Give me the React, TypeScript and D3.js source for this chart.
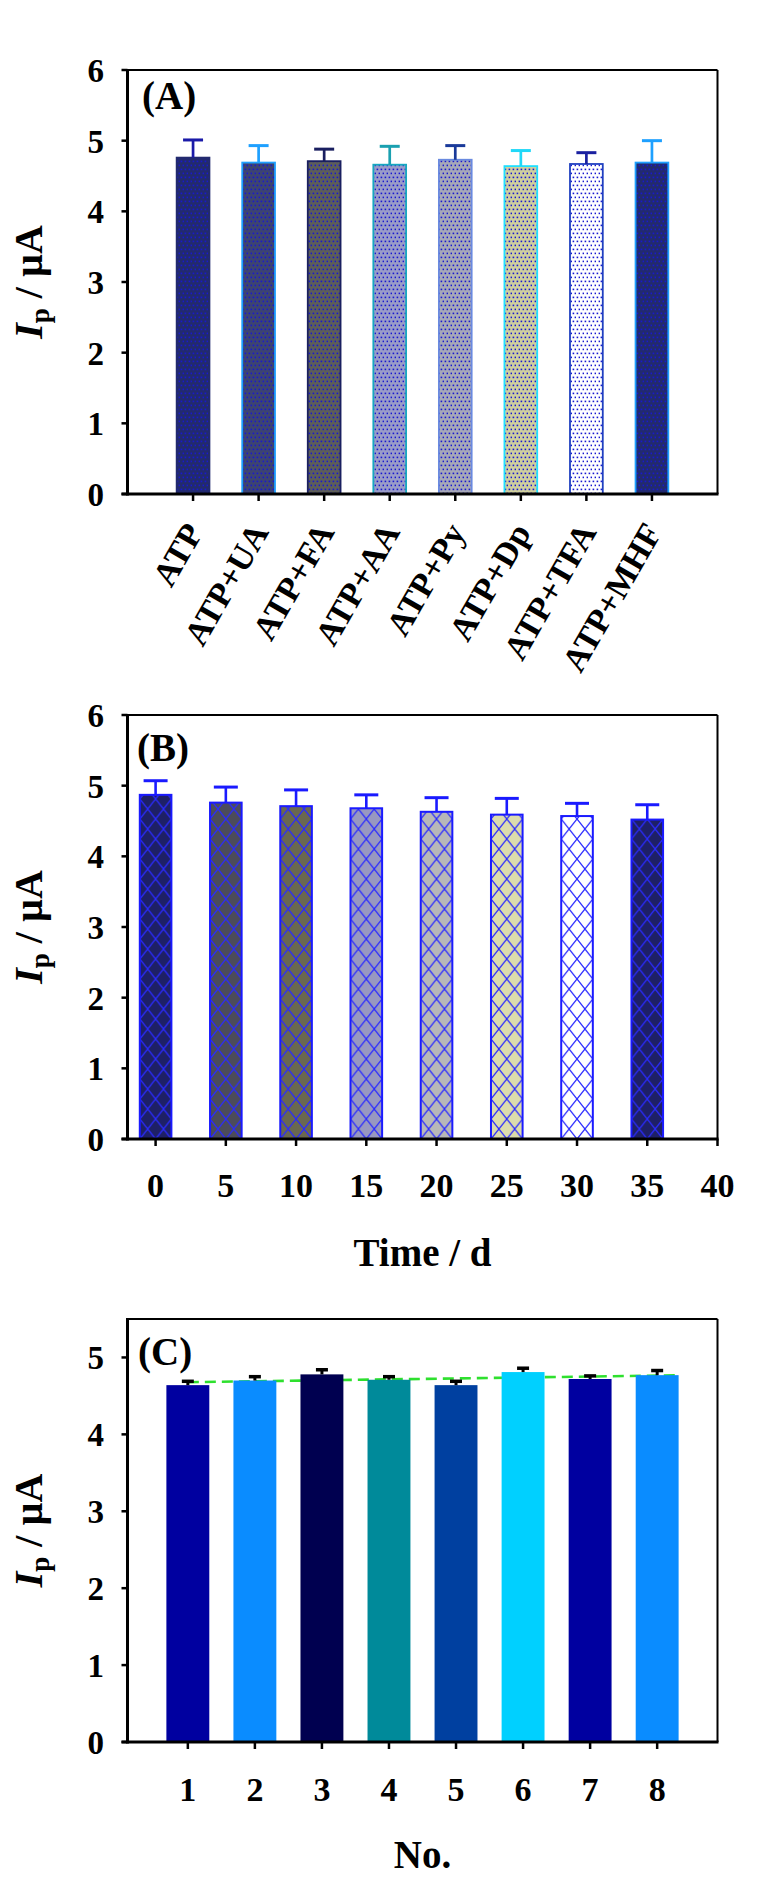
import React from 'react';
import * as d3 from 'd3';

// panel A: interference study
const categoriesA = ['ATP', 'ATP+UA', 'ATP+FA', 'ATP+AA', 'ATP+Py', 'ATP+Dp', 'ATP+TFA', 'ATP+MHF'];
const valuesA = [4.76, 4.69, 4.71, 4.66, 4.73, 4.64, 4.67, 4.69];
const errorsA = [0.25, 0.24, 0.17, 0.26, 0.2, 0.22, 0.16, 0.31];

// panel B: stability over time
const daysB = [0, 5, 10, 15, 20, 25, 30, 35];
const valuesB = [4.87, 4.76, 4.71, 4.68, 4.63, 4.59, 4.57, 4.52];
const errorsB = [0.2, 0.22, 0.23, 0.19, 0.2, 0.23, 0.18, 0.21];
const dayTicksB = [0, 5, 10, 15, 20, 25, 30, 35, 40];

// panel C: reproducibility, electrodes 1-8
const electrodesC = [1, 2, 3, 4, 5, 6, 7, 8];
const valuesC = [4.64, 4.7, 4.78, 4.71, 4.64, 4.81, 4.72, 4.77];
const errorsC = [0.05, 0.05, 0.06, 0.04, 0.05, 0.05, 0.04, 0.06];

const yTicksAB = [0, 1, 2, 3, 4, 5, 6];
const yTicksC = [0, 1, 2, 3, 4, 5];

const fillA = ['#222a6e', '#3d4470', '#5d5e58', '#9a9cc8', '#a6a8b8', '#cfcf9e', '#ffffff', '#222a6e'];
const edgeA = ['#222a6e', '#1ea0ff', '#1a1f60', '#18a8c0', '#6a8ae0', '#20e0ff', '#2040c0', '#1ea0ff'];
const errColA = ['#1a1aa8', '#1ea0ff', '#1a1f60', '#1aa0b0', '#1a3a9a', '#20d8f8', '#1a20a0', '#1ea0ff'];
const fillB = ['#1e2066', '#4c4c5a', '#6a6850', '#9898c0', '#b8b8b8', '#dcdcac', '#ffffff', '#1e2066'];
const fillC = ['#0000a0', '#0a8cff', '#000050', '#008a9a', '#0040a0', '#00d0ff', '#0000a0', '#0a8cff'];

const W = 761;
const H = 1884;
const X0 = 127.5;
const X1 = 717.5;
const FONT = '"Liberation Serif", "Times New Roman", serif';

function Frame({ top, bottom, y, yTicks, xTicks }) {
  return (
    <g>
      {yTicks.map(t => (
        <g key={t}>
          <line x1={X0 - 6} x2={X0} y1={y(t)} y2={y(t)} stroke="#000" strokeWidth={2.5} />
          <text x={104} y={y(t)} dy="0.36em" textAnchor="end" fontSize={33} fontWeight="bold">{t}</text>
        </g>
      ))}
      {xTicks.map((x, i) => (
        <line key={i} x1={x} x2={x} y1={bottom} y2={bottom + 7} stroke="#000" strokeWidth={2.5} />
      ))}
      <line x1={X0} x2={X1} y1={top} y2={top} stroke="#000" strokeWidth={2} />
      <line x1={X1} x2={X1} y1={top} y2={bottom} stroke="#000" strokeWidth={2} />
      <line x1={X0} x2={X0} y1={top - 1} y2={bottom + 1.5} stroke="#000" strokeWidth={3} />
      <line x1={X0 - 6} x2={X1 + 1} y1={bottom} y2={bottom} stroke="#000" strokeWidth={3} />
    </g>
  );
}

function YTitle({ cy }) {
  return (
    <text transform={`translate(42,${cy}) rotate(-90)`} textAnchor="middle" fontSize={40} fontWeight="bold">
      <tspan fontStyle="italic">I</tspan>
      <tspan fontSize={27} dy={7}>p</tspan>
      <tspan dy={-7}> / µA</tspan>
    </text>
  );
}

function hatchPaths(w, h) {
  const s = h / w;
  const segs = [];
  for (const c of [-h, 0, h]) segs.push(`M${-w},${-s * w + c}L${2 * w},${2 * s * w + c}`);
  for (const c of [0, h, 2 * h]) segs.push(`M${-w},${s * w + c}L${2 * w},${-2 * s * w + c}`);
  return segs.join('');
}

export default function App() {
  // ---- panel A ----
  const topA = 70, botA = 494;
  const xA = d3.scaleLinear().domain([0, 9]).range([X0, X1]);
  const yA = d3.scaleLinear().domain([0, 6]).range([botA, topA]);
  const bwA = (xA(1) - xA(0)) * 0.5;

  // ---- panel B ----
  const topB = 715, botB = 1139;
  const xB = d3.scaleLinear().domain([-2, 40]).range([X0, X1]);
  const yB = d3.scaleLinear().domain([0, 6]).range([botB, topB]);
  const bwB = xB(2.25) - xB(0);

  // ---- panel C ----
  const topC = 1319, botC = 1742;
  const xC = d3.scaleLinear().domain([0.1, 8.9]).range([X0, X1]);
  const yC = d3.scaleLinear().domain([0, 5.5]).range([botC, topC]);
  const bwC = (xC(2) - xC(1)) * 0.64;

  // least-squares trend through the reproducibility data
  const mx = d3.mean(electrodesC);
  const my = d3.mean(valuesC);
  const slope = d3.sum(electrodesC, (x, i) => (x - mx) * (valuesC[i] - my)) / d3.sum(electrodesC, x => (x - mx) ** 2);
  const fit = [1, 8.32].map(x => [x, my + slope * (x - mx)]);
  const fitLine = d3.line().x(d => xC(d[0])).y(d => yC(d[1]));

  const hw = (xB(5) - xB(0)) * 0.225;
  const hh = 20;

  return (
    <svg width={W} height={H} style={{ position: 'absolute', left: 0, top: 0, background: '#fff' }} fontFamily={FONT}>
      <defs>
        {fillA.map((f, i) => (
          <pattern key={i} id={`dotA${i}`} width={4} height={8} patternUnits="userSpaceOnUse">
            <rect width={4} height={8} fill={f} />
            <rect x={0.6} y={0.6} width={1.6} height={1.6} fill="#1818d0" />
            <rect x={2.6} y={4.6} width={1.6} height={1.6} fill="#1818d0" />
          </pattern>
        ))}
        {fillB.map((f, i) => (
          <pattern key={i} id={`hatchB${i}`} width={hw} height={hh} patternUnits="userSpaceOnUse"
            x={xB(daysB[i]) - bwB / 2} y={botB}>
            <rect width={hw} height={hh} fill={f} />
            <path d={hatchPaths(hw, hh)} stroke="#2a2aff" strokeWidth={1.3} fill="none" />
          </pattern>
        ))}
      </defs>
      <rect width={W} height={H} fill="#fff" />

      {/* (A) */}
      {categoriesA.map((c, i) => {
        const cx = xA(i + 1);
        return (
          <g key={c}>
            <rect x={cx - bwA / 2} y={yA(valuesA[i])} width={bwA} height={botA - yA(valuesA[i])}
              fill={`url(#dotA${i})`} stroke={edgeA[i]} strokeWidth={1.8} />
            <line x1={cx} x2={cx} y1={yA(valuesA[i])} y2={yA(valuesA[i] + errorsA[i])} stroke={errColA[i]} strokeWidth={2.7} />
            <line x1={cx - 10} x2={cx + 10} y1={yA(valuesA[i] + errorsA[i])} y2={yA(valuesA[i] + errorsA[i])} stroke={errColA[i]} strokeWidth={3} />
            <text transform={`translate(${cx + 11},532) rotate(-60)`} textAnchor="end" fontSize={34} fontWeight="bold">{c}</text>
          </g>
        );
      })}
      <Frame top={topA} bottom={botA} y={yA} yTicks={yTicksAB} xTicks={categoriesA.map((c, i) => xA(i + 1))} />
      <YTitle cy={(topA + botA) / 2} />
      <text x={142} y={109} fontSize={39} fontWeight="bold">(A)</text>

      {/* (B) */}
      {daysB.map((d, i) => {
        const cx = xB(d);
        return (
          <g key={d}>
            <rect x={cx - bwB / 2} y={yB(valuesB[i])} width={bwB} height={botB - yB(valuesB[i])}
              fill={`url(#hatchB${i})`} stroke="#1a1aff" strokeWidth={2} />
            <line x1={cx} x2={cx} y1={yB(valuesB[i])} y2={yB(valuesB[i] + errorsB[i])} stroke="#1a1aff" strokeWidth={2.6} />
            <line x1={cx - 12} x2={cx + 12} y1={yB(valuesB[i] + errorsB[i])} y2={yB(valuesB[i] + errorsB[i])} stroke="#1a1aff" strokeWidth={3} />
          </g>
        );
      })}
      <Frame top={topB} bottom={botB} y={yB} yTicks={yTicksAB} xTicks={dayTicksB.map(d => xB(d))} />
      {dayTicksB.map(d => (
        <text key={d} x={xB(d)} y={1197} textAnchor="middle" fontSize={34} fontWeight="bold">{d}</text>
      ))}
      <YTitle cy={(topB + botB) / 2} />
      <text x={137} y={761} fontSize={39} fontWeight="bold">(B)</text>
      <text x={(X0 + X1) / 2} y={1266} textAnchor="middle" fontSize={39} fontWeight="bold">Time / d</text>

      {/* (C) */}
      <path d={fitLine(fit)} fill="none" stroke="#2ee02e" strokeWidth={2.6} strokeDasharray="11 6" />
      {electrodesC.map((n, i) => {
        const cx = xC(n);
        return (
          <g key={n}>
            <rect x={cx - bwC / 2} y={yC(valuesC[i])} width={bwC} height={botC - yC(valuesC[i])} fill={fillC[i]} />
            <line x1={cx} x2={cx} y1={yC(valuesC[i])} y2={yC(valuesC[i] + errorsC[i])} stroke="#000" strokeWidth={3} />
            <line x1={cx - 6} x2={cx + 6} y1={yC(valuesC[i] + errorsC[i])} y2={yC(valuesC[i] + errorsC[i])} stroke="#000" strokeWidth={3.5} />
          </g>
        );
      })}
      <Frame top={topC} bottom={botC} y={yC} yTicks={yTicksC} xTicks={electrodesC.map(n => xC(n))} />
      {electrodesC.map(n => (
        <text key={n} x={xC(n)} y={1801} textAnchor="middle" fontSize={34} fontWeight="bold">{n}</text>
      ))}
      <YTitle cy={(topC + botC) / 2} />
      <text x={138} y={1365} fontSize={39} fontWeight="bold">(C)</text>
      <text x={(X0 + X1) / 2} y={1868} textAnchor="middle" fontSize={39} fontWeight="bold">No.</text>
    </svg>
  );
}
